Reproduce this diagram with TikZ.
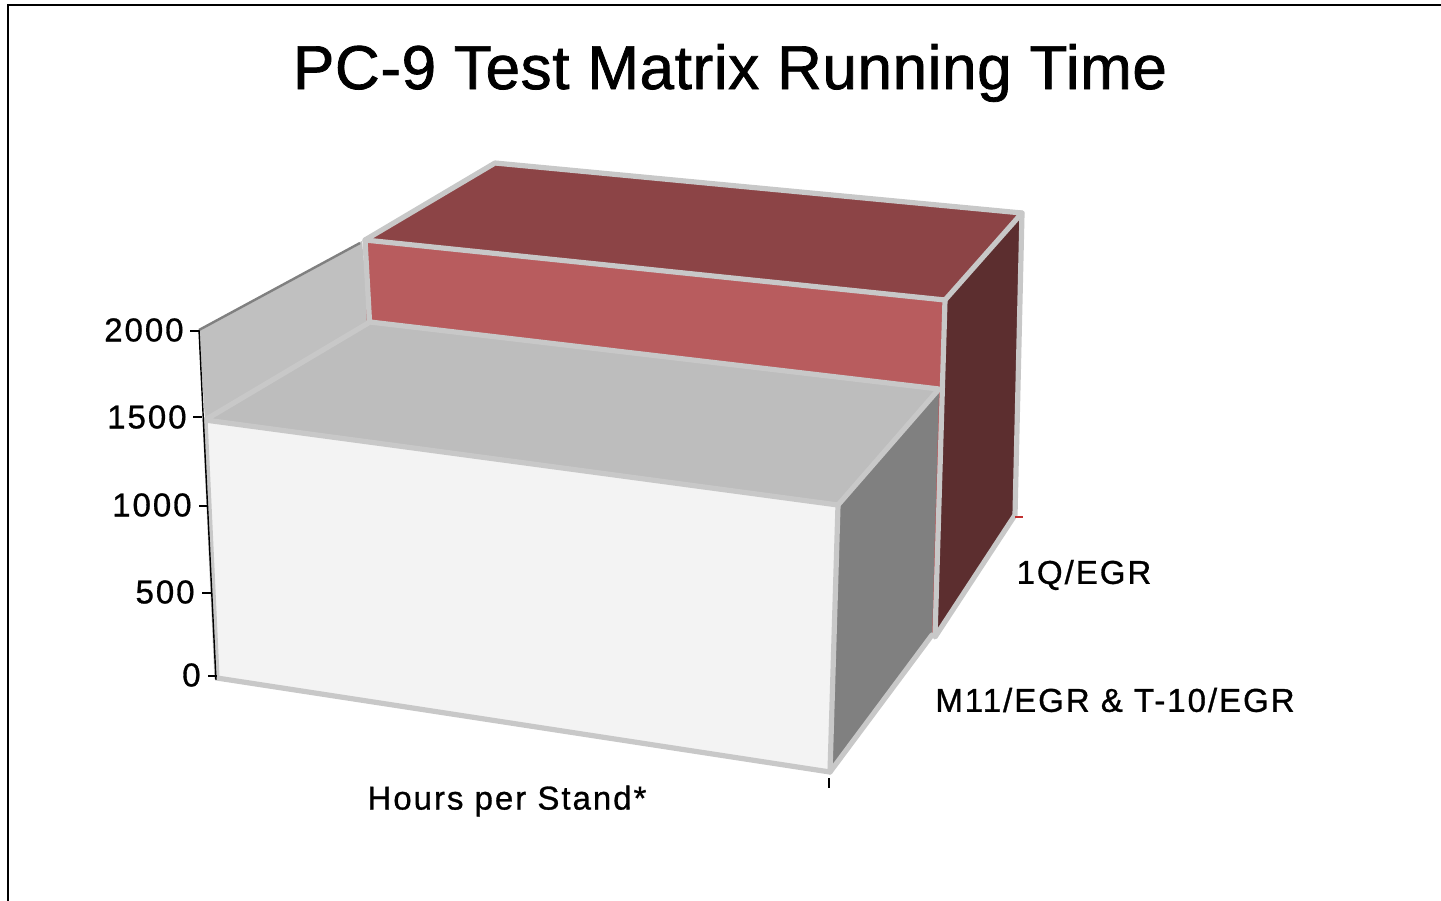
\documentclass[tikz,border=0pt]{standalone}
\usepackage{fontspec}
\setmainfont{Liberation Sans}
\newfontfamily\titlefont[LetterSpace=1,FakeBold=1.2]{Liberation Sans}
\newfontfamily\labelfont[LetterSpace=6,FakeBold=0.9]{Liberation Sans}
\begin{document}
\begin{tikzpicture}[x=0.5pt,y=-0.5pt,
  rim/.style={draw=rimgray,line width=2.6pt,line join=round,line cap=round},
  ticklbl/.style={font=\labelfont\fontsize{16.5}{18}\selectfont,anchor=east,inner sep=0pt},
  catlbl/.style={font=\labelfont\fontsize{16.5}{18}\selectfont,inner sep=0pt},
  tickmark/.style={draw=black,line width=0.6pt}]
\definecolor{rimgray}{HTML}{C8C8C8}
\definecolor{wallgray}{HTML}{C0C0C0}
\definecolor{topgray}{HTML}{BDBDBD}
\definecolor{sidegray}{HTML}{808080}
\definecolor{frontwhite}{HTML}{F3F3F3}
\definecolor{redfront}{HTML}{B85C5E}
\definecolor{redtop}{HTML}{8C4446}
\definecolor{redside}{HTML}{5C2E2F}
\definecolor{tickred}{HTML}{C03030}

\useasboundingbox (0,0) rectangle (1441,900);
\fill[white] (0,0) rectangle (1441,900);
% chart frame (runs off the right and bottom)
\draw[black,line width=1pt] (8,910) -- (8,5) -- (1450,5);

% side wall behind the series
\fill[wallgray] (199,330) -- (362,241) -- (370,330) -- (205,420) -- cycle;
\draw[sidegray,line width=1.2pt] (199,330) -- (360,243);

% ---- back series: 1Q/EGR ----
\coordinate (rTL) at (365,240);
\coordinate (rTR) at (945,300);
\coordinate (rBL) at (372,560);
\coordinate (rBR) at (935,637);
\coordinate (rKL) at (495,163);
\coordinate (rKR) at (1022,213);
\coordinate (rKB) at (1015,515);
\fill[redfront] (rTL) -- (rTR) -- (rBR) -- (rBL) -- cycle;
\fill[redtop] (rTL) -- (rKL) -- (rKR) -- (rTR) -- cycle;
\fill[redside] (rTR) -- (rKR) -- (rKB) -- (rBR) -- cycle;
\draw[rim] (rTL) -- (rKL) -- (rKR) -- (rTR) -- cycle;
\draw[rim] (rTL) -- (370,330);
\draw[rim] (rTR) -- (rBR) -- (rKB) -- (rKR);

% ---- front series: M11/EGR & T-10/EGR ----
\coordinate (wTL) at (205,420);
\coordinate (wTR) at (838,505);
\coordinate (wBL) at (217,678);
\coordinate (wBR) at (830,772);
\coordinate (wKL) at (370,322);
\coordinate (wKR) at (939,389);
\coordinate (wKB) at (932,635);
\fill[topgray] (wTL) -- (wKL) -- (wKR) -- (wTR) -- cycle;
\fill[frontwhite] (wTL) -- (wTR) -- (wBR) -- (wBL) -- cycle;
\fill[sidegray] (wTR) -- (wKR) -- (wKB) -- (wBR) -- cycle;
\draw[rim] (wTL) -- (wKL) -- (wKR) -- (wTR) -- cycle;
\draw[rim] (wTL) -- (wBL) -- (wBR) -- (wTR);
\draw[rim] (wBR) -- (wKB);

% value axis
\draw[black,line width=0.7pt] (199,330) -- (216,680);
\draw[tickmark] (190,331) -- (199,331);
\draw[tickmark] (193,417) -- (202,417);
\draw[tickmark] (199,506) -- (208,506);
\draw[tickmark] (202,593) -- (211,593);
\draw[tickmark] (208,676) -- (217,676);
\node[ticklbl] (t2000) at (184,330) {2000};
\node[ticklbl] (t1500) at (187,417) {1500};
\node[ticklbl] (t1000) at (192,505) {1000};
\node[ticklbl] (t500)  at (195,592) {500};
\node[ticklbl] (t0)    at (201,675) {0};

% category and series marks
\draw[tickmark] (829,778) -- (829,788);
\draw[tickred,line width=0.6pt] (1015,517) -- (1023,517);

% labels
\node[catlbl] (serA) at (1084,575) {1Q/EGR};
\node[catlbl] (serB) at (1115,700) {M11/EGR \& T-10/EGR};
\node[catlbl] (cat)  at (507,801) {Hours per Stand*};
\node[font=\titlefont\fontsize{31}{36}\selectfont,inner sep=0pt] (title) at (730,73) {PC-9 Test Matrix Running Time};
\end{tikzpicture}
\end{document}
